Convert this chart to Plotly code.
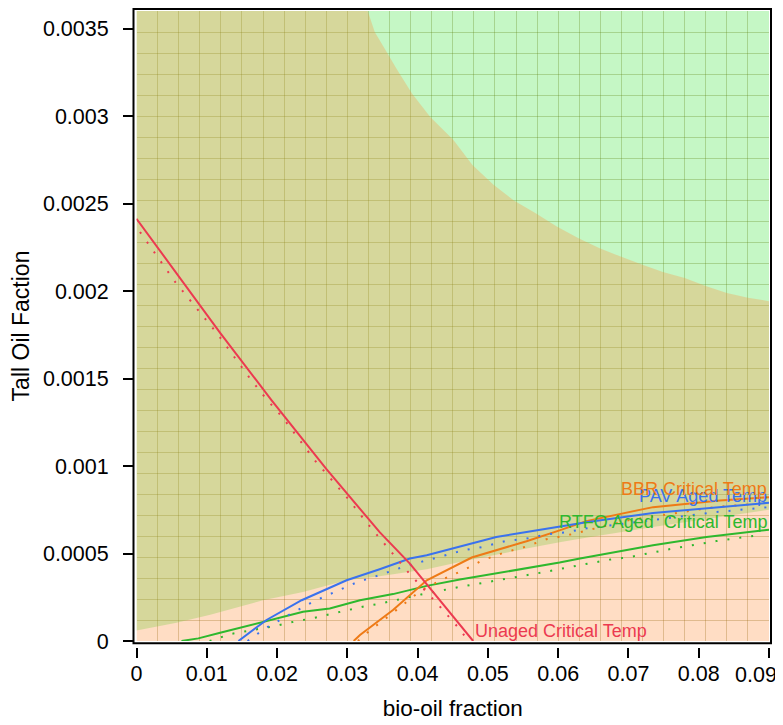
import plotly.graph_objects as go

# ---------------- data ----------------
# upper boundary of the orange region (hyperbola-like)
H_X = [0.0, 0.0329, 0.0339, 0.0356, 0.0370, 0.0392, 0.0418, 0.0451, 0.0478,
       0.0508, 0.0537, 0.0568, 0.0598, 0.0629, 0.0659, 0.0688, 0.0719,
       0.0749, 0.0780, 0.0811, 0.0840, 0.0870, 0.0900]
H_Y = [0.0036, 0.0036, 0.00348, 0.003366, 0.00327, 0.003128, 0.002995, 0.002863,
       0.00272, 0.002607, 0.002517, 0.002445, 0.002369, 0.002302, 0.002245,
       0.002198, 0.002151, 0.002109, 0.002075, 0.002027, 0.001989, 0.001961, 0.001942]

# lower boundary of the green region
L_X = [0.0, 0.0057, 0.0105, 0.0180, 0.0237, 0.0299, 0.0346, 0.0413, 0.0460,
       0.0508, 0.0555, 0.0602, 0.0631, 0.0735, 0.0900]
L_Y = [0.00006, 0.000105, 0.00015, 0.000233, 0.00028, 0.000347, 0.00037, 0.00041,
       0.000452, 0.00049, 0.000528, 0.000565, 0.000585, 0.000651, 0.00075]

RED_X = [0.0, 0.0119, 0.0192, 0.0270, 0.0346, 0.0389, 0.0479]
RED_Y = [0.002413, 0.001761, 0.001377, 0.000983, 0.000622, 0.000442, 0.0]
RED_DX = [0.0005, 0.0055, 0.0115, 0.0161, 0.0185, 0.0208, 0.0254, 0.0301, 0.0327,
          0.0360, 0.0389, 0.0427, 0.0460, 0.0472]
RED_DY = [0.002337, 0.002052, 0.001756, 0.001503, 0.001382, 0.001277, 0.001031,
          0.000813, 0.000679, 0.000518, 0.000382, 0.000218, 0.000067, 0.0]

BLUE_X = [0.0145, 0.0185, 0.0235, 0.0299, 0.0346, 0.0389, 0.0413, 0.0477, 0.0512,
          0.0555, 0.0602, 0.0640, 0.0735, 0.0830, 0.0900]
BLUE_Y = [0.0, 0.00012, 0.000233, 0.000347, 0.00041, 0.000471, 0.00049, 0.00056,
          0.000594, 0.000623, 0.000655, 0.000679, 0.000731, 0.000765, 0.00079]
BLUE_DX = [0.0158, 0.0183, 0.0224, 0.0254, 0.0285, 0.0315, 0.0344, 0.0375, 0.0405,
           0.0435, 0.0465, 0.0492, 0.0525, 0.0552, 0.0582, 0.0613, 0.0640, 0.0823, 0.0900]
BLUE_DY = [0.0, 0.000072, 0.000165, 0.00023, 0.000285, 0.000338, 0.000374, 0.000417,
           0.000452, 0.000484, 0.000518, 0.000537, 0.000571, 0.000583, 0.000608,
           0.000622, 0.000644, 0.000736, 0.000765]

ORANGE_X = [0.0309, 0.0318, 0.0365, 0.0413, 0.0477, 0.0507, 0.0555, 0.0602, 0.0640,
            0.0735, 0.0830, 0.0900]
ORANGE_Y = [0.0, 0.000034, 0.000177, 0.000347, 0.000477, 0.000513, 0.00057, 0.000632,
            0.000685, 0.000765, 0.000803, 0.000822]
ORANGE_DX = [0.0315, 0.0334, 0.0350, 0.0383, 0.0405, 0.0435, 0.0466, 0.0492, 0.0523,
             0.0552, 0.0583, 0.0613, 0.0700, 0.0823, 0.0900]
ORANGE_DY = [0.0, 0.000067, 0.000114, 0.000218, 0.00029, 0.000351, 0.000406, 0.000461,
             0.000505, 0.000537, 0.000581, 0.000604, 0.00069, 0.000765, 0.00079]

GREEN_X = [0.0064, 0.0088, 0.0119, 0.0180, 0.0237, 0.0275, 0.0318, 0.0365, 0.0413,
           0.0460, 0.0507, 0.0555, 0.0602, 0.0631, 0.0735, 0.0811, 0.0900]
GREEN_Y = [0.0, 0.000015, 0.000047, 0.00011, 0.000167, 0.000186, 0.000233, 0.000268,
           0.000315, 0.000351, 0.000382, 0.000417, 0.000448, 0.000471, 0.000547,
           0.000594, 0.000636]
GREEN_DX = [0.0104, 0.0134, 0.0199, 0.0224, 0.0254, 0.0325, 0.0344, 0.0405, 0.0460,
            0.0492, 0.0523, 0.0552, 0.0582, 0.0613, 0.0673, 0.0702, 0.0763, 0.0825,
            0.0853, 0.0884]
GREEN_DY = [0.0, 0.00004, 0.000087, 0.00011, 0.000133, 0.000199, 0.000211, 0.000266,
            0.000309, 0.000332, 0.000351, 0.000376, 0.000395, 0.00042, 0.000465,
            0.00048, 0.000528, 0.000571, 0.000585, 0.000604]

X_TICKS = [0, 0.01, 0.02, 0.03, 0.04, 0.05, 0.06, 0.07, 0.08, 0.09]
X_LABELS = ["0", "0.01", "0.02", "0.03", "0.04", "0.05", "0.06", "0.07", "0.08", "0.09"]
Y_TICKS = [0, 0.0005, 0.001, 0.0015, 0.002, 0.0025, 0.003, 0.0035]
Y_LABELS = ["0", "0.0005", "0.001", "0.0015", "0.002", "0.0025", "0.003", "0.0035"]

X_RANGE = [0, 0.09]
Y_RANGE = [0, 0.0036]

LABELS = ["Unaged Critical Temp", "PAV Aged Temp", "BBR Critical Temp",
          "RTFO Aged\u00a0 Critical Temp"]

# ---------------- styling ----------------
FONT = "Liberation Sans, Arial, Helvetica, sans-serif"
TICK_SIZE = 21.5
C_RED = "#EC3A50"
C_BLUE = "#3A72EE"
C_ORANGE = "#EE7A16"
C_GREEN = "#2EB82E"
FILL_GREEN = "rgba(62,228,62,0.30)"
FILL_ORANGE = "rgba(255,142,58,0.30)"
DOT = "2px,10px"

# the last x tick label is drawn as an annotation nudged left to stay in the window
x_text = X_LABELS[:-1] + [""]

fig = go.Figure()

# green region: above lower boundary
fig.add_trace(go.Scatter(
    x=L_X + [X_RANGE[1], X_RANGE[0]], y=L_Y + [Y_RANGE[1], Y_RANGE[1]],
    fill="toself", fillcolor=FILL_GREEN, mode="none", hoverinfo="skip",
    showlegend=False, xaxis="x", yaxis="y"))
# orange region: below upper boundary
fig.add_trace(go.Scatter(
    x=H_X + [X_RANGE[1], X_RANGE[0]], y=H_Y + [Y_RANGE[0], Y_RANGE[0]],
    fill="toself", fillcolor=FILL_ORANGE, mode="none", hoverinfo="skip",
    showlegend=False, xaxis="x", yaxis="y"))

series = [
    (GREEN_X, GREEN_Y, GREEN_DX, GREEN_DY, C_GREEN),
    (ORANGE_X, ORANGE_Y, ORANGE_DX, ORANGE_DY, C_ORANGE),
    (BLUE_X, BLUE_Y, BLUE_DX, BLUE_DY, C_BLUE),
    (RED_X, RED_Y, RED_DX, RED_DY, C_RED),
]
for sx, sy, dx, dy, col in series:
    fig.add_trace(go.Scatter(x=dx, y=dy, mode="lines",
                             line=dict(color=col, width=2, dash=DOT),
                             showlegend=False, xaxis="x2", yaxis="y2"))
    fig.add_trace(go.Scatter(x=sx, y=sy, mode="lines",
                             line=dict(color=col, width=2),
                             showlegend=False, xaxis="x2", yaxis="y2"))

# direct labels at the line ends
ann = [
    dict(x=RED_X[-1], y=RED_Y[-1], text=LABELS[0], xanchor="left", yshift=10, color=C_RED),
    dict(x=BLUE_X[-1], y=BLUE_Y[-1], text=LABELS[1], xanchor="right", yshift=7, color=C_BLUE),
    dict(x=ORANGE_X[-1], y=ORANGE_Y[-1], text=LABELS[2], xanchor="right", yshift=8, color=C_ORANGE),
    dict(x=GREEN_X[-1], y=GREEN_Y[-1], text=LABELS[3], xanchor="right", yshift=8, color=C_GREEN),
]
for a in ann:
    fig.add_annotation(x=a["x"], y=a["y"], xref="x2", yref="y2", text=a["text"],
                       showarrow=False, xanchor=a["xanchor"], yanchor="middle",
                       yshift=a["yshift"], xshift=0,
                       font=dict(family=FONT, size=18, color=a["color"]))

# last x tick label
fig.add_annotation(x=X_TICKS[-1], y=0, xref="x2", yref="paper", text=X_LABELS[-1],
                   showarrow=False, xanchor="center", yanchor="top",
                   xshift=-13, yshift=-14,
                   font=dict(family=FONT, size=TICK_SIZE, color="black"))

# The page body adds an 8px offset, so the figure is laid out 8px up/left.
W, H = 783, 725
ML, MR, MT, MB = 125, 22, 3, 86
pw = W - ML - MR
ph = H - MT - MB
xdom0 = 3.5 / pw
ydom0 = 6.0 / ph

grid = "rgba(110,90,0,0.30)"
fig.update_layout(
    width=W, height=H,
    margin=dict(l=ML, r=MR, t=MT, b=MB, pad=0, autoexpand=False),
    paper_bgcolor="white", plot_bgcolor="white",
    font=dict(family=FONT, size=TICK_SIZE, color="black"),
    showlegend=False,
    xaxis=dict(domain=[xdom0, 1], range=X_RANGE, tick0=0, dtick=0.003,
               showgrid=True, gridcolor=grid, gridwidth=1, zeroline=False,
               showticklabels=False, ticks="", showline=False, fixedrange=True,
               automargin=False),
    yaxis=dict(domain=[ydom0, 1], range=Y_RANGE, tick0=0, dtick=0.00012,
               showgrid=True, gridcolor=grid, gridwidth=1, zeroline=False,
               showticklabels=False, ticks="", showline=False, fixedrange=True,
               automargin=False),
    xaxis2=dict(overlaying="x", anchor="free", position=0, range=X_RANGE,
                tickmode="array", tickvals=X_TICKS, ticktext=x_text,
                ticks="outside", ticklen=10, tickwidth=2, tickcolor="black",
                showgrid=False, zeroline=False, showline=False,
                ticklabelstandoff=-3, automargin=False,
                title=dict(text="bio-oil fraction", standoff=15,
                           font=dict(family=FONT, size=22.5))),
    yaxis2=dict(overlaying="y", anchor="free", position=0, range=Y_RANGE,
                tickmode="array", tickvals=Y_TICKS, ticktext=Y_LABELS,
                ticks="outside", ticklen=10, tickwidth=2, tickcolor="black",
                showgrid=False, zeroline=False, showline=False,
                ticklabelstandoff=10, automargin=False,
                title=dict(text="Tall Oil Faction", standoff=5,
                           font=dict(family=FONT, size=23))),
)

# frame around the panel (slightly outside the data area)
fig.add_shape(type="rect", xref="paper", yref="paper",
              x0=0.5 / pw, x1=(763.0 - ML) / pw,
              y0=(H - MB - 635.3) / ph, y1=(H - MB - 1.0) / ph,
              line=dict(color="black", width=2), fillcolor="rgba(0,0,0,0)",
              layer="above")

fig.write_html("out.html")
